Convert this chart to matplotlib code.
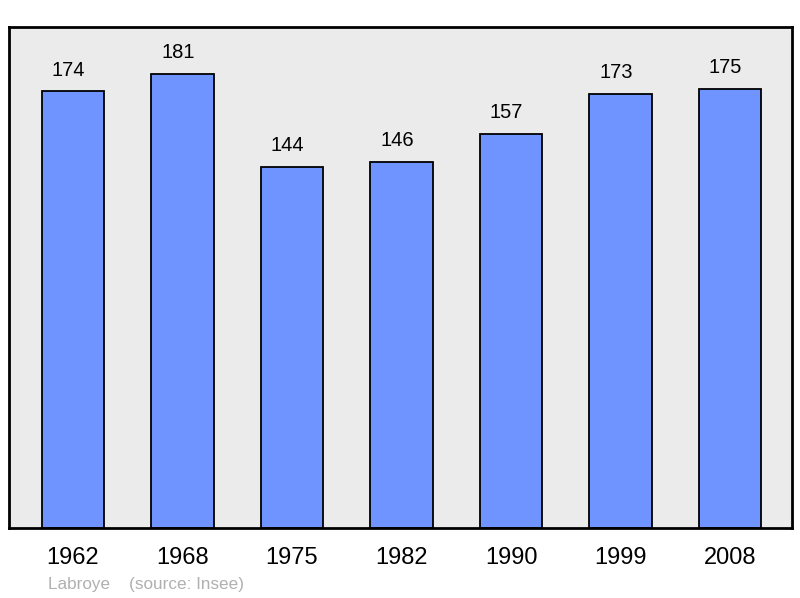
import matplotlib.pyplot as plt

# Population data
years = ['1962', '1968', '1975', '1982', '1990', '1999', '2008']
population = [174, 181, 144, 146, 157, 173, 175]

bar_color = '#7094ff'
bg_color = '#ebebeb'

plt.rcParams['font.family'] = ['Liberation Sans', 'DejaVu Sans']

fig = plt.figure(figsize=(8, 5.98), dpi=100)
ax = fig.add_axes([9/800, 70/598, 783/800, 501/598])
ax.set_facecolor(bg_color)

xpos = list(range(len(years)))
ax.bar(xpos, population, width=0.57, color=bar_color, edgecolor='black', linewidth=1.3, zorder=2)

# value labels sit a bit left of the bar centre in the original
for x, v in zip(xpos, population):
    ax.text(x - 0.04, v + 8.4, str(v), ha='center', va='center', fontsize=14.5)

ax.set_xlim(-0.585, 6.566)
ax.set_ylim(0, 199.6)
ax.set_yticks([])
ax.set_xticks(xpos)
ax.set_xticklabels(years, fontsize=17)
ax.tick_params(axis='x', length=0, pad=14)
for s in ax.spines.values():
    s.set_linewidth(2)

fig.text(48/800, 1 - 584/598, 'Labroye    (source: Insee)', color='#b0b0b0', fontsize=12.3, va='center')

fig.savefig('out.png', dpi=100)
